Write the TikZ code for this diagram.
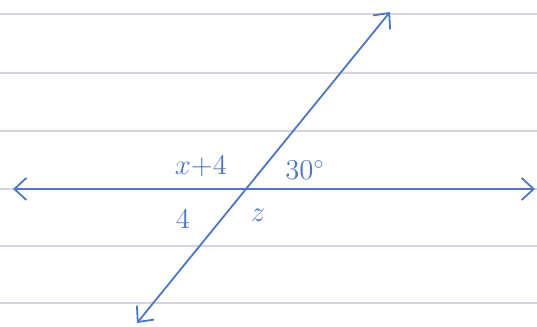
\documentclass[tikz,border=0pt]{standalone}
\usepackage{amsmath,amssymb}
\usepackage{xcolor}
\usetikzlibrary{arrows.meta}
\definecolor{ink}{RGB}{78,118,196}
\definecolor{rule}{RGB}{214,212,222}

\begin{document}
\begin{tikzpicture}[x=0.5pt,y=-0.5pt,>={Straight Barb[length=6pt,width=11pt]},
  lbl/.style={ink,font=\fontsize{14}{16}\selectfont},
  ray/.style={ink,line width=0.9pt,<->}]
  \useasboundingbox (0,0) rectangle (537,327);
  % ruled paper
  \foreach \y in {14,73,131,189,246,303}
    \draw[rule,line width=0.6pt] (0,\y) -- (537,\y);
  % the two lines
  \coordinate (L) at (13,189);
  \coordinate (R) at (535,189);
  \coordinate (T) at (390,12);
  \coordinate (B) at (137,323);
  \draw[ray] (L) -- (R);
  \draw[ray] (B) -- (T);
  % angle labels
  \node[lbl] (xfour) at (201,166) {$x{+}4$};
  \node[lbl] (thirty) at (305,170) {$30^\circ$};
  \node[lbl] (four) at (183,219) {$4$};
  \node[lbl] (zed) at (258,215) {$z$};
\end{tikzpicture}
\end{document}
